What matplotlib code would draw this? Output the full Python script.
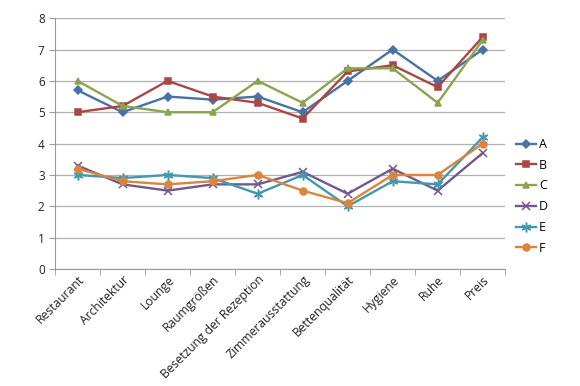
import matplotlib
matplotlib.use("Agg")
import matplotlib.pyplot as plt
import numpy as np

categories = ["Restaurant", "Architektur", "Lounge", "Raumgrößen",
              "Besetzung der Rezeption", "Zimmerausstattung", "Bettenqualität",
              "Hygiene", "Ruhe", "Preis"]

a = [5.7, 5.0, 5.5, 5.4, 5.5, 5.0, 6.0, 7.0, 6.0, 7.0]
b = [5.0, 5.2, 6.0, 5.5, 5.3, 4.8, 6.3, 6.5, 5.8, 7.4]
c = [6.0, 5.2, 5.0, 5.0, 6.0, 5.3, 6.4, 6.4, 5.3, 7.3]
d = [3.3, 2.7, 2.5, 2.7, 2.7, 3.1, 2.4, 3.2, 2.5, 3.7]
e = [3.0, 2.9, 3.0, 2.9, 2.4, 3.0, 2.0, 2.8, 2.7, 4.2]
f = [3.2, 2.8, 2.7, 2.8, 3.0, 2.5, 2.1, 3.0, 3.0, 4.0]

series = [("A", a, "#4572A7", "D", 4),
          ("B", b, "#AA4643", "s", 5),
          ("C", c, "#89A54E", "^", 5),
          ("D", d, "#71588F", "x", 6),
          ("E", e, "#4198AF", (6, 2, 0), 7),
          ("F", f, "#DB843D", "o", 5)]

plt.rcParams['font.family'] = ['Open Sans', 'DejaVu Sans']

fig = plt.figure(figsize=(5.8, 3.86), dpi=100)
ax = fig.add_axes([0.095, 0.303, 0.776, 0.650])

x = np.arange(len(categories))
for name, vals, col, mk, ms in series:
    ax.plot(x, vals, color=col, lw=1.7, marker=mk, markersize=ms,
            markeredgewidth=1.1, label=name)

ax.set_xlim(-0.5, len(categories) - 0.5)
ax.set_ylim(0, 8)
ax.set_yticks(range(0, 9))
ax.yaxis.grid(True, color="#b0b0b0", lw=0.9)
ax.set_axisbelow(True)

ax.set_xticks(x)
ax.set_xticklabels(categories, rotation=45, ha="right", rotation_mode="anchor",
                   fontsize=8.7, color="#222222")
ax.tick_params(axis="x", length=0, pad=3)
ax.set_xticks(np.arange(-0.5, len(categories)), minor=True)
ax.tick_params(axis="x", which="minor", length=4, color="#999999", direction="out")
ax.tick_params(axis="y", length=4, color="#999999", labelsize=8.5, labelcolor="#222222")

for s in ["top", "right"]:
    ax.spines[s].set_visible(False)
for s in ["left", "bottom"]:
    ax.spines[s].set_color("#999999")

ax.legend(loc="center left", bbox_to_anchor=(1.0, 0.29), frameon=False,
          fontsize=9, handlelength=1.6, labelspacing=0.62, handletextpad=0.2)

fig.savefig("out.png", dpi=100)
